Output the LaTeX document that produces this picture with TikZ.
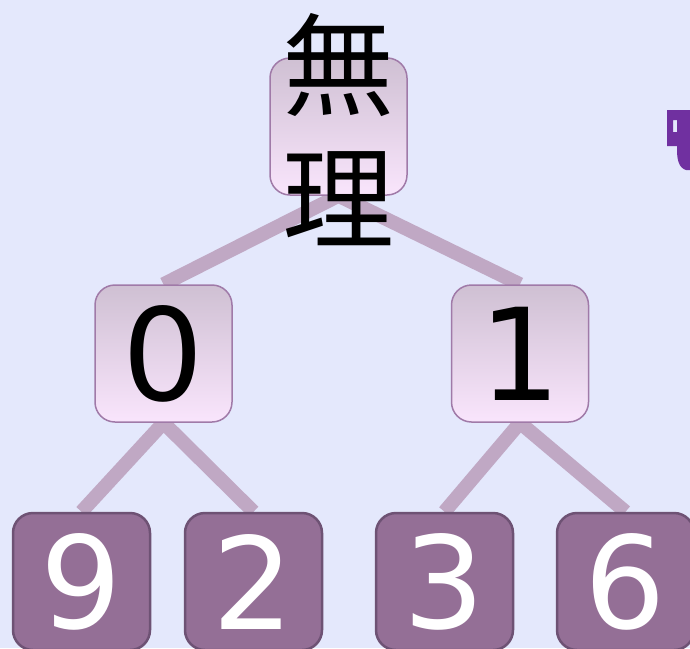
\documentclass[tikz,border=0pt]{standalone}
\usepackage{fontspec}
\setmainfont{DejaVu Sans}
\newfontfamily\cjk{Noto Sans CJK JP}
\usetikzlibrary{backgrounds}
\definecolor{bgc}{RGB}{228,232,252}
\definecolor{edgec}{RGB}{192,168,196}
\definecolor{topc}{RGB}{207,192,211}
\definecolor{botc}{RGB}{249,229,252}
\definecolor{lbord}{RGB}{160,122,168}
\definecolor{leaff}{RGB}{148,111,150}
\definecolor{leafb}{RGB}{110,82,116}
\definecolor{glyphc}{RGB}{112,48,160}
\tikzset{
  inner/.style={draw=lbord, line width=1.5pt, rounded corners=20pt,
    top color=topc, bottom color=botc, minimum width=137pt, minimum height=137pt,
    inner sep=0pt, font=\fontsize{128}{128}\selectfont},
  leaf/.style={draw=leafb, line width=2.5pt, rounded corners=20pt, fill=leaff,
    text=white, minimum width=137pt, minimum height=137pt, inner sep=0pt,
    font=\fontsize{128}{128}\selectfont},
  edge/.style={edgec, line width=14pt},
}
\begin{document}
\begin{tikzpicture}[x=1pt,y=-1pt]
\useasboundingbox (0,0) rectangle (690,648);
\begin{scope}
\clip (0,0) rectangle (690,648);
\node[inner] (top) at (338.5,126.5) {};
\node[font=\cjk\fontsize{112}{133}\selectfont, align=center, inner sep=0pt] (toptext) at ([yshift=-3pt]top.center) {無\\理};
\node[inner] (n0) at (163.5,353.5) {0};
\node[inner] (n1) at (520,353.5) {1};
\node[leaf] (l9) at (81.5,581.5) {9};
\node[leaf] (l2) at (253.5,581.5) {2};
\node[leaf] (l3) at (444.5,581.5) {3};
\node[leaf] (l6) at (625.5,581.5) {6};
\begin{scope}[on background layer]
\fill[bgc] (0,0) rectangle (690,648);
\draw[edge] (top.south) -- (n0.north);
\draw[edge] (top.south) -- (n1.north);
\draw[edge] (n0.south) -- (l9.north);
\draw[edge] (n0.south) -- (l2.north);
\draw[edge] (n1.south) -- (l3.north);
\draw[edge] (n1.south) -- (l6.north);
\end{scope}
\fill[glyphc, even odd rule] (667,110) -- (692,110) -- (692,170) -- (686,170)
  .. controls (679,168) and (677,160) .. (677,150) -- (677,146) -- (667,146) -- cycle
  (673,120) rectangle (677,132);
\end{scope}
\end{tikzpicture}
\end{document}
